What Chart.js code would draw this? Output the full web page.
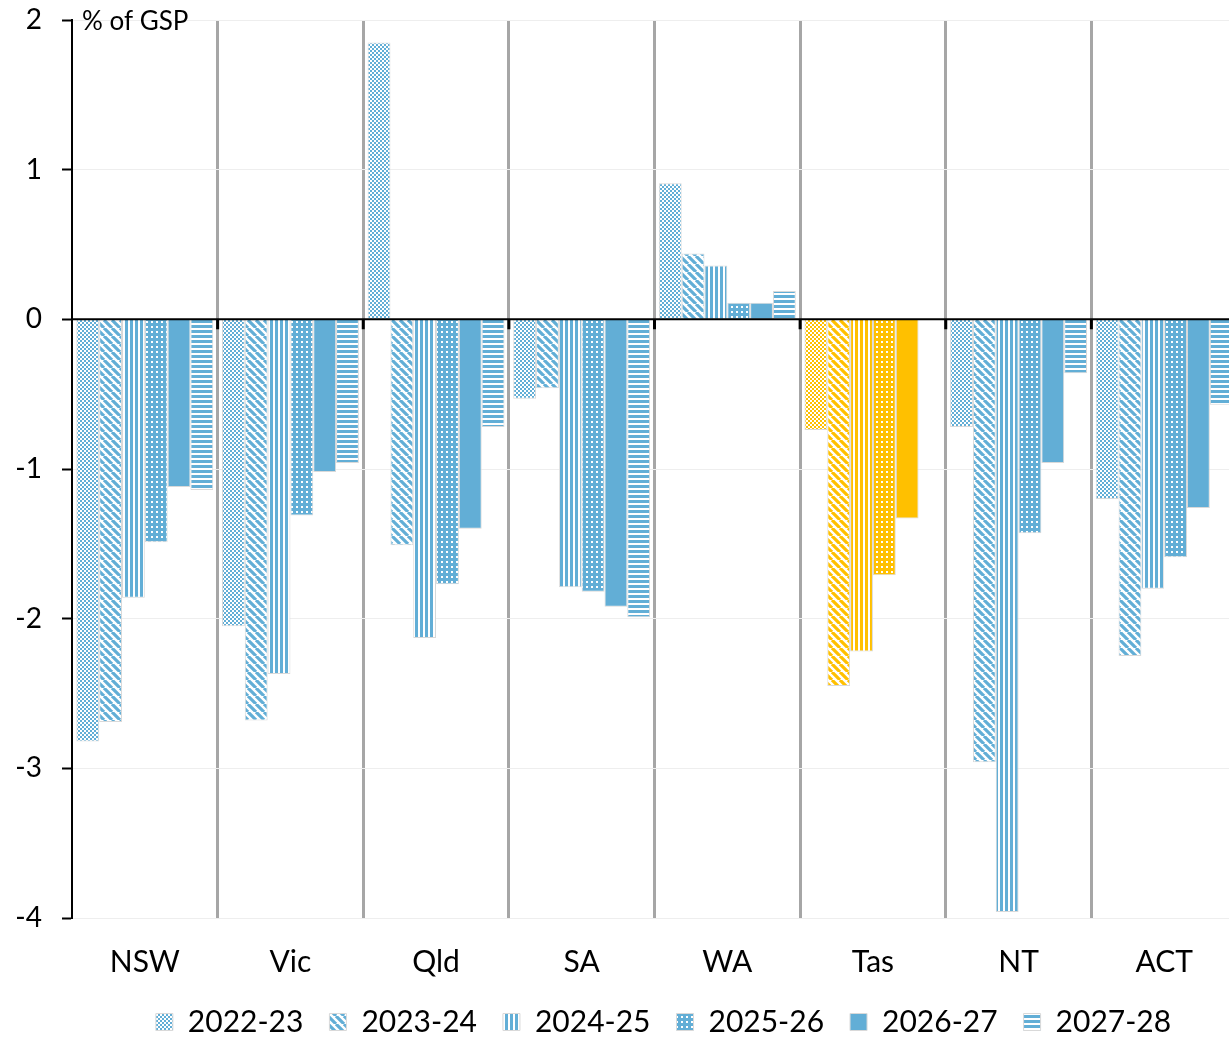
<!DOCTYPE html>
<html>
<head>
<meta charset="utf-8">
<script src="https://cdn.jsdelivr.net/npm/chart.js@4.4.0/dist/chart.umd.min.js"></script>
<style>
  html, body { margin: 0; padding: 0; background: #fff; overflow: hidden; }
  #wrap { width: 1237px; height: 1037px; }
</style>
</head>
<body>
<div id="wrap"><canvas id="gspChart" width="1237" height="1037"></canvas></div>
<script>
// categories and series (% of GSP)
const states = ['NSW', 'Vic', 'Qld', 'SA', 'WA', 'Tas', 'NT', 'ACT'];
const years = ['2022-23', '2023-24', '2024-25', '2025-26', '2026-27', '2027-28'];
const fy2223 = [-2.82, -2.05, 1.85, -0.53, 0.91, -0.74, -0.72, -1.20];
const fy2324 = [-2.69, -2.68, -1.51, -0.46, 0.44, -2.45, -2.96, -2.25];
const fy2425 = [-1.86, -2.37, -2.13, -1.79, 0.36, -2.22, -3.96, -1.80];
const fy2526 = [-1.49, -1.31, -1.77, -1.82, 0.11, -1.71, -1.43, -1.59];
const fy2627 = [-1.12, -1.02, -1.40, -1.92, 0.11, -1.33, -0.96, -1.26];
const fy2728 = [-1.14, -0.96, -0.72, -1.99, 0.19, null, -0.36, -0.57];
const yTicks = [2, 1, 0, -1, -2, -3, -4];
const highlightState = 'Tas';

const BLUE = '#62aed6';
const GOLD = '#ffc000';
const FONT = 'Lato';

// fill patterns, one per year, in blue and gold
function makePattern(kind, color) {
    const c = document.createElement('canvas');
    const g = c.getContext('2d');
    if (kind === 'checker') {
        c.width = 4; c.height = 4;
        g.fillStyle = '#fff'; g.fillRect(0, 0, 4, 4);
        g.fillStyle = color; g.fillRect(0, 0, 2, 2); g.fillRect(2, 2, 2, 2);
    } else if (kind === 'diag') {
        c.width = 8; c.height = 8;
        g.fillStyle = '#fff'; g.fillRect(0, 0, 8, 8);
        g.strokeStyle = color; g.lineWidth = 3.2;
        g.beginPath();
        [-8, 0, 8].forEach(k => { g.moveTo(k, 0); g.lineTo(k + 8, 8); });
        g.stroke();
    } else if (kind === 'vert') {
        c.width = 5; c.height = 2;
        g.fillStyle = '#fff'; g.fillRect(0, 0, 5, 2);
        g.fillStyle = color; g.fillRect(0, 0, 3, 2);
    } else if (kind === 'dots') {
        c.width = 5; c.height = 5;
        g.fillStyle = color; g.fillRect(0, 0, 5, 5);
        g.fillStyle = '#fff'; g.fillRect(1, 1, 2, 2);
    } else if (kind === 'horiz') {
        c.width = 2; c.height = 5;
        g.fillStyle = '#fff'; g.fillRect(0, 0, 2, 5);
        g.fillStyle = color; g.fillRect(0, 0, 2, 3);
    } else {
        return color;
    }
    return g.createPattern(c, 'repeat');
}

const patternKinds = ['checker', 'diag', 'vert', 'dots', 'solid', 'horiz'];
const seriesValues = [fy2223, fy2324, fy2425, fy2526, fy2627, fy2728];

const datasets = years.map((yr, i) => {
    const blue = makePattern(patternKinds[i], BLUE);
    const gold = makePattern(patternKinds[i], GOLD);
    return {
        label: yr,
        data: seriesValues[i],
        backgroundColor: states.map(s => s === highlightState ? gold : blue),
        legendFill: blue,
        borderColor: '#d9d9d9',
        borderWidth: 1,
        categoryPercentage: 0.94,
        barPercentage: 1.0
    };
});

// zero axis, its boundary tick marks and the unit label
const axisOverlay = {
    id: 'axisOverlay',
    afterDatasetsDraw(chart) {
        const { ctx, chartArea, scales: { x, y } } = chart;
        const y0 = y.getPixelForValue(0);
        ctx.save();
        ctx.strokeStyle = '#000';
        ctx.lineWidth = 2;
        ctx.beginPath();
        ctx.moveTo(chartArea.left, y0);
        ctx.lineTo(chartArea.right, y0);
        ctx.stroke();
        ctx.lineWidth = 3;
        ctx.beginPath();
        for (let i = 1; i < states.length; i++) {
            const bx = (x.getPixelForValue(i - 1) + x.getPixelForValue(i)) / 2;
            ctx.moveTo(bx, y0);
            ctx.lineTo(bx, y0 + 10);
        }
        ctx.stroke();
        ctx.fillStyle = '#000';
        ctx.font = '26px ' + FONT;
        ctx.textBaseline = 'middle';
        ctx.fillText('% of GSP', chartArea.left + 10, chartArea.top + 2);
        ctx.restore();
    }
};

// tighten the legend box and nudge it into place
const legendNudge = {
    id: 'legendNudge',
    beforeInit(chart) {
        const fit = chart.legend.fit;
        chart.legend.fit = function () {
            fit.call(this);
            this.height -= 35;
        };
    },
    beforeDraw(chart) {
        const lg = chart.legend;
        lg.top -= 25;
        lg.left += 9; lg.right += 9;
    }
};

const ctx = document.getElementById('gspChart').getContext('2d');
new Chart(ctx, {
    type: 'bar',
    data: { labels: states, datasets: datasets },
    options: {
        responsive: false,
        animation: false,
        layout: { padding: { top: 20, left: 0, right: 0, bottom: 0 } },
        plugins: {
            tooltip: { enabled: false },
            legend: {
                position: 'bottom',
                fullSize: false,
                labels: {
                    font: { family: FONT, size: 30 },
                    color: '#000',
                    boxWidth: 17,
                    boxHeight: 17,
                    padding: 26,
                    generateLabels: chart => chart.data.datasets.map((ds, i) => ({
                        text: ds.label,
                        fillStyle: ds.legendFill,
                        strokeStyle: '#d9d9d9',
                        lineWidth: 1,
                        hidden: false,
                        datasetIndex: i
                    }))
                }
            }
        },
        scales: {
            x: {
                grid: {
                    offset: true,
                    drawTicks: false,
                    color: c => c.index === 0 ? 'rgba(0,0,0,0)' : '#a6a6a6',
                    lineWidth: 3
                },
                border: { display: false },
                ticks: { font: { family: FONT, size: 30 }, color: '#000', padding: 26 }
            },
            y: {
                min: -4,
                max: 2,
                afterBuildTicks: s => { s.ticks = yTicks.map(v => ({ value: v })); },
                afterFit: s => { s.width = 72; s.paddingTop = 0; s.paddingBottom = 0; },
                grid: {
                    color: c => c.tick && c.tick.value === 0 ? 'rgba(0,0,0,0)' : '#eeeeee',
                    lineWidth: 1,
                    tickColor: '#000',
                    tickWidth: 2,
                    tickLength: 10
                },
                border: { color: '#000', width: 2 },
                ticks: { font: { family: FONT, size: 28 }, color: '#000', padding: 20 }
            }
        }
    },
    plugins: [axisOverlay, legendNudge]
});
</script>
</body>
</html>
